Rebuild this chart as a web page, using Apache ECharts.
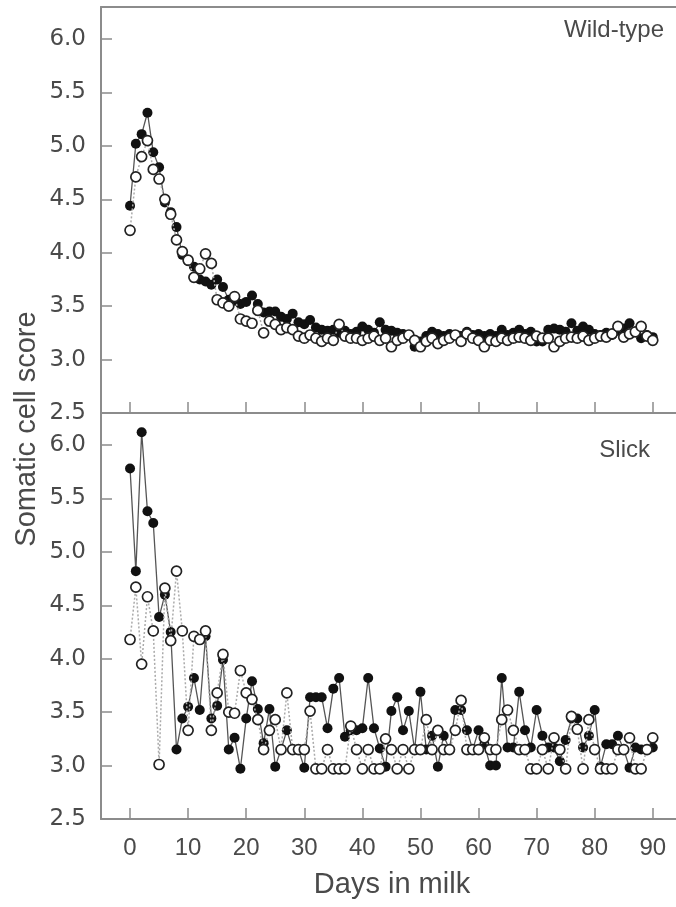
<!DOCTYPE html>
<html>
<head>
<meta charset="utf-8">
<script src="https://cdn.jsdelivr.net/npm/echarts@6/dist/echarts.min.js"></script>
<style>html,body{margin:0;padding:0;background:#fff}#c{width:676px;height:907px}</style>
</head>
<body>
<div id="c"></div>
<script>
const days = [0,1,2,3,4,5,6,7,8,9,10,11,12,13,14,15,16,17,18,19,20,21,22,23,24,25,26,27,28,29,30,31,32,33,34,35,36,37,38,39,40,41,42,43,44,45,46,47,48,49,50,51,52,53,54,55,56,57,58,59,60,61,62,63,64,65,66,67,68,69,70,71,72,73,74,75,76,77,78,79,80,81,82,83,84,85,86,87,88,89,90];
const xTicks = [0,10,20,30,40,50,60,70,80,90];
const yTicks = [2.5,3.0,3.5,4.0,4.5,5.0,5.5,6.0];
const panelLabels = ['Wild-type','Slick'];

const wildFilled = [4.44,5.02,5.11,5.31,4.94,4.80,4.47,4.38,4.24,3.98,3.92,3.87,3.75,3.73,3.70,3.75,3.68,3.56,3.55,3.52,3.54,3.60,3.52,3.44,3.45,3.45,3.40,3.38,3.43,3.35,3.33,3.37,3.30,3.28,3.27,3.28,3.25,3.27,3.24,3.26,3.31,3.28,3.25,3.35,3.28,3.27,3.25,3.24,3.23,3.12,3.17,3.22,3.26,3.24,3.22,3.24,3.23,3.22,3.26,3.23,3.24,3.22,3.24,3.22,3.28,3.23,3.25,3.28,3.24,3.26,3.17,3.17,3.28,3.29,3.28,3.26,3.34,3.27,3.31,3.28,3.24,3.23,3.25,3.23,3.27,3.29,3.34,3.26,3.20,3.23,3.21];
const wildOpen = [4.21,4.71,4.90,5.05,4.78,4.69,4.50,4.36,4.12,4.01,3.93,3.77,3.85,3.99,3.90,3.56,3.53,3.50,3.59,3.38,3.36,3.34,3.46,3.25,3.36,3.33,3.28,3.30,3.28,3.22,3.20,3.23,3.20,3.17,3.20,3.18,3.33,3.22,3.20,3.20,3.18,3.20,3.22,3.18,3.20,3.12,3.18,3.20,3.23,3.18,3.12,3.17,3.20,3.15,3.18,3.20,3.23,3.17,3.24,3.20,3.18,3.12,3.18,3.17,3.20,3.18,3.20,3.21,3.20,3.18,3.22,3.20,3.20,3.12,3.17,3.20,3.21,3.20,3.22,3.18,3.20,3.22,3.21,3.24,3.31,3.21,3.24,3.26,3.31,3.22,3.18];
const slickFilled = [5.78,4.82,6.12,5.38,5.27,4.39,4.60,4.25,3.15,3.44,3.55,3.82,3.52,4.21,3.44,3.56,3.99,3.15,3.26,2.97,3.44,3.79,3.53,3.21,3.53,2.99,3.15,3.33,3.15,3.15,2.98,3.64,3.64,3.64,3.35,3.72,3.82,3.27,3.33,3.33,3.35,3.82,3.35,3.16,2.99,3.51,3.64,3.33,3.51,3.15,3.69,3.15,3.28,2.99,3.28,3.15,3.52,3.52,3.33,3.15,3.33,3.20,3.00,3.00,3.82,3.17,3.17,3.69,3.33,3.17,3.52,3.28,3.17,3.17,3.04,3.24,3.44,3.44,3.17,3.28,3.52,2.99,3.20,3.20,3.28,3.15,2.98,3.17,3.15,3.15,3.17];
const slickOpen = [4.18,4.67,3.95,4.58,4.26,3.01,4.66,4.17,4.82,4.26,3.33,4.21,4.18,4.26,3.33,3.68,4.04,3.50,3.49,3.89,3.68,3.62,3.43,3.15,3.33,3.43,3.15,3.68,3.15,3.15,3.15,3.51,2.97,2.97,3.15,2.97,2.97,2.97,3.37,3.15,2.97,3.15,2.97,2.97,3.25,3.15,2.97,3.15,2.97,3.15,3.15,3.43,3.15,3.33,3.15,3.15,3.33,3.61,3.15,3.15,3.15,3.26,3.15,3.15,3.43,3.52,3.33,3.15,3.15,2.97,2.97,3.15,2.97,3.26,3.15,2.97,3.46,3.34,2.97,3.43,3.15,2.97,2.97,2.97,3.15,3.15,3.26,2.97,2.97,3.15,3.26];

const pairs = vals => days.map((d, i) => [d, vals[i]]);
const AX = '#8c8c8c';
const TXT = '#4a4a4a';

function xAxisDef(gridIndex, showLabels) {
  return {
    type: 'value', gridIndex, min: -5, max: 94, position: 'bottom',
    axisLine: { show: true, onZero: false, lineStyle: { color: AX, width: 2 } },
    axisTick: { show: true, inside: true, length: 11, customValues: xTicks, lineStyle: { color: AX, width: 1.5 } },
    axisLabel: { show: showLabels, customValues: xTicks, margin: 17, color: TXT, fontFamily: 'Liberation Sans', fontSize: 24 },
    splitLine: { show: false }
  };
}
function yAxisDef(gridIndex) {
  return {
    type: 'value', gridIndex, min: 2.5, max: 6.3,
    axisLine: { show: true, onZero: false, lineStyle: { color: AX, width: 2 } },
    axisTick: { show: true, inside: true, length: 11, customValues: yTicks, lineStyle: { color: AX, width: 1.5 } },
    axisLabel: { customValues: yTicks, margin: 15, color: TXT, fontFamily: 'DejaVu Sans', fontSize: 23, formatter: v => v.toFixed(1) },
    splitLine: { show: false }
  };
}
function filledSeries(xi, yi, vals) {
  return {
    type: 'line', xAxisIndex: xi, yAxisIndex: yi, data: pairs(vals),
    symbol: 'circle', symbolSize: 10, z: 2,
    itemStyle: { color: '#111' },
    lineStyle: { color: '#555', width: 1.3, type: 'solid' },
    animation: false
  };
}
function openSeries(xi, yi, vals) {
  return {
    type: 'line', xAxisIndex: xi, yAxisIndex: yi, data: pairs(vals),
    symbol: 'circle', symbolSize: 10, z: 3,
    itemStyle: { color: '#fff', borderColor: '#222', borderWidth: 1.7 },
    lineStyle: { color: '#aaa', width: 1.5, type: [2, 2] },
    animation: false
  };
}

const chart = echarts.init(document.getElementById('c'), null, { renderer: 'canvas' });
chart.setOption({
  backgroundColor: '#fff',
  animation: false,
  grid: [
    { left: 101, top: 7, right: 0, height: 406 },
    { left: 101, top: 413, right: 0, height: 406 }
  ],
  xAxis: [
    xAxisDef(0, false),
    xAxisDef(1, true),
    { type: 'value', gridIndex: 0, min: -5, max: 94, position: 'top',
      axisLine: { show: true, onZero: false, lineStyle: { color: AX, width: 2 } },
      axisTick: { show: false }, axisLabel: { show: false }, splitLine: { show: false } }
  ],
  yAxis: [yAxisDef(0), yAxisDef(1)],
  series: [
    filledSeries(0, 0, wildFilled),
    openSeries(0, 0, wildOpen),
    filledSeries(1, 1, slickFilled),
    openSeries(1, 1, slickOpen)
  ],
  graphic: [
    { type: 'text', right: 12, top: 18, style: { text: panelLabels[0], fill: TXT, font: '24px "Liberation Sans"' } },
    { type: 'text', right: 26, top: 438, style: { text: panelLabels[1], fill: TXT, font: '24px "Liberation Sans"' } },
    { type: 'text', x: 27, y: 429, rotation: Math.PI / 2,
      style: { text: 'Somatic cell score', fill: TXT, font: '29px "Liberation Sans"', align: 'center', verticalAlign: 'middle' } },
    { type: 'text', x: 392, y: 885,
      style: { text: 'Days in milk', fill: TXT, font: '29px "Liberation Sans"', align: 'center', verticalAlign: 'middle' } }
  ]
});
</script>
</body>
</html>
